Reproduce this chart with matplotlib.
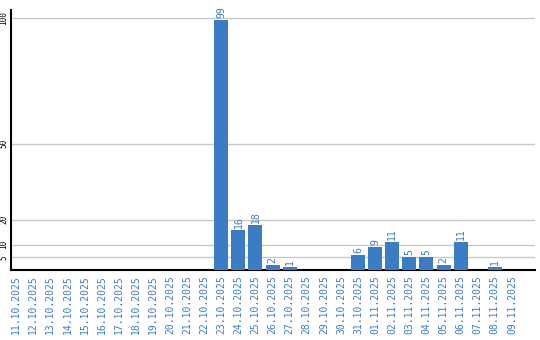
import matplotlib.pyplot as plt

dates = ['11.10.2025', '12.10.2025', '13.10.2025', '14.10.2025', '15.10.2025',
         '16.10.2025', '17.10.2025', '18.10.2025', '19.10.2025', '20.10.2025',
         '21.10.2025', '22.10.2025', '23.10.2025', '24.10.2025', '25.10.2025',
         '26.10.2025', '27.10.2025', '28.10.2025', '29.10.2025', '30.10.2025',
         '31.10.2025', '01.11.2025', '02.11.2025', '03.11.2025', '04.11.2025',
         '05.11.2025', '06.11.2025', '07.11.2025', '08.11.2025', '09.11.2025']
counts = [0, 0, 0, 0, 0, 0, 0, 0, 0, 0, 0, 0, 99, 16, 18, 2, 1, 0, 0, 0,
          6, 9, 11, 5, 5, 2, 11, 0, 1, 0]
yticks = [5, 10, 20, 50, 100]

blue = '#3b7cc4'

fig = plt.figure(figsize=(5.4, 3.4), dpi=100)
ax = fig.add_axes([11 / 540, 70 / 340, 524 / 540, 260 / 340])

x = list(range(len(dates)))
ax.bar(x, counts, width=0.82, color=blue, zorder=3)

# value labels above the bars
for xi, v in zip(x, counts):
    if v > 0:
        ax.text(xi, v + 0.8, str(v), rotation=90, ha='center', va='bottom',
                color=blue, fontsize=7, family='DejaVu Sans Mono')

ax.set_xlim(-0.3, 30.35)
ax.set_ylim(0, 103)
ax.set_yticks(yticks)
ax.set_yticklabels([str(t) for t in yticks], rotation=90, va='center',
                   family='DejaVu Sans Mono', fontsize=5.5)
ax.set_xticks(x)
ax.set_xticklabels(dates, rotation=90, color=blue, family='DejaVu Sans Mono',
                   fontsize=7)
ax.tick_params(axis='x', length=0, pad=4)
ax.tick_params(axis='y', length=0, pad=2)
ax.grid(axis='y', color='#c8c8c8', linewidth=1, zorder=0)

for s in ['top', 'right']:
    ax.spines[s].set_visible(False)
for s in ['left', 'bottom']:
    ax.spines[s].set_linewidth(1.5)
    ax.spines[s].set_color('black')

fig.savefig('out.png', dpi=100)
